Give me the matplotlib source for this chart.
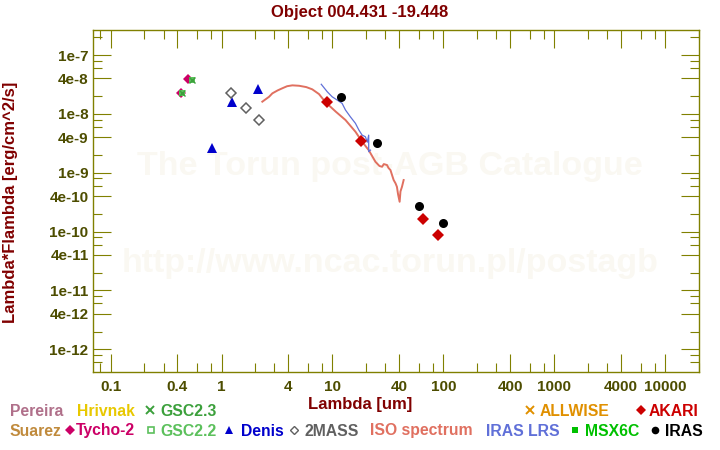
import math

import matplotlib
matplotlib.use('Agg')
import matplotlib.pyplot as plt
from matplotlib.ticker import LogLocator, FuncFormatter

plt.rcParams['font.family'] = ['Liberation Sans', 'DejaVu Sans']
plt.rcParams['font.weight'] = 'bold'

# photometry, wavelength [um] and lambda*F_lambda [erg/cm^2/s]
tycho_wl = [0.43, 0.50]
tycho_fl = [2.25e-8, 3.95e-8]
gsc22_wl = [0.44, 0.545]
gsc22_fl = [2.3e-8, 3.8e-8]
gsc23_wl = [0.44, 0.545]
gsc23_fl = [2.3e-8, 3.8e-8]
denis_wl = [0.82, 1.24, 2.14]
denis_fl = [2.65e-9, 1.61e-8, 2.67e-8]
mass_wl = [1.22, 1.67, 2.16]
mass_fl = [2.23e-8, 1.24e-8, 7.9e-9]
akari_wl = [9.0, 18.0, 65.0, 90.0]
akari_fl = [1.57e-8, 3.44e-9, 1.61e-10, 8.7e-11]
iras_wl = [12.0, 25.0, 60.0, 100.0]
iras_fl = [1.91e-8, 3.18e-9, 2.7e-10, 1.37e-10]

# ISO SWS spectrum
iso_wl = [2.33, 2.68, 2.87, 3.2, 3.53, 3.9, 4.35, 5.0, 5.8, 6.57, 7.55, 8.67, 10.7,
          13.1, 16.1, 18.5, 21.2, 24.4, 26.5, 28.0, 29.0, 31.0, 32.0, 33.3, 34.5,
          35.6, 37.0, 38.1, 39.0, 40.3, 41.0, 42.3, 43.8]
iso_fl = [1.61e-8, 1.95e-8, 2.23e-8, 2.5e-8, 2.72e-8, 2.95e-8, 3.05e-8, 3.0e-8, 2.85e-8,
          2.61e-8, 2.17e-8, 1.57e-8, 1.09e-8, 7.85e-9, 4.97e-9, 3.36e-9, 2.42e-9,
          1.53e-9, 1.30e-9, 1.26e-9, 1.40e-9, 1.35e-9, 1.20e-9, 1.11e-9, 9.0e-10,
          7.5e-10, 6.6e-10, 5.75e-10, 4.3e-10, 3.2e-10, 4.8e-10, 5.75e-10, 7.5e-10]

# IRAS LRS spectrum
lrs_wl = [7.92, 8.96, 9.93, 11.0, 12.2, 13.1, 14.5, 16.1, 17.3, 18.5, 19.8, 20.6,
          21.2, 21.2, 22.0]
lrs_fl = [3.18e-8, 2.38e-8, 1.95e-8, 1.72e-8, 1.51e-8, 1.16e-8, 8.9e-9, 6.9e-9,
          5.3e-9, 4.35e-9, 4.08e-9, 3.3e-9, 4.35e-9, 2.27e-9, 2.42e-9]

olive = '#808000'
tick_text = '#4d4d00'
maroon = '#800000'

fig = plt.figure(figsize=(7.2, 4.5), dpi=100)
ax = fig.add_axes([92.7 / 720, 1 - 372 / 450, (699.3 - 92.7) / 720, (372 - 30) / 450])

ax.set_xscale('log')
ax.set_yscale('log')
ax.set_xlim(0.0689, 20270)
ax.set_ylim(4.1e-13, 2.66e-7)

# watermark
ax.text(0.5417, 1 - 175 / 450, 'The Torun post-AGB Catalogue', transform=fig.transFigure,
        ha='center', va='baseline', fontsize=24.5, fontweight='bold', color='#faf8f2', zorder=0)
ax.text(0.5417, 1 - 272.3 / 450, 'http://www.ncac.torun.pl/postagb', transform=fig.transFigure,
        ha='center', va='baseline', fontsize=24.5, fontweight='bold', color='#faf8f2', zorder=0)

ax.plot(iso_wl, iso_fl, color='#e07060', lw=1.4, zorder=2)
ax.plot(lrs_wl, lrs_fl, color='#6070d8', lw=0.9, zorder=3)

ax.plot(tycho_wl, tycho_fl, 'D', color='#cc0066', ms=5.5, mew=0, zorder=4)
ax.plot(gsc22_wl, gsc22_fl, 's', color='#5cc05c', ms=5, mew=0, zorder=5)
ax.plot(gsc23_wl, gsc23_fl, 'x', color='#3ca03c', ms=4, mew=1, zorder=6)
ax.plot(denis_wl, denis_fl, '^', color='#0000cc', ms=6.5, mew=0, zorder=5)
ax.plot(mass_wl, mass_fl, 'D', mfc='none', mec='#606060', ms=5.5, mew=1.1, zorder=5)
ax.plot(akari_wl, akari_fl, 'D', color='#cc0000', ms=6.5, mew=0, zorder=6)
ax.plot(iras_wl, iras_fl, 'o', color='black', ms=6.5, mew=0, zorder=6)


def xfmt(v, pos):
    return '%g' % v


def yfmt(v, pos):
    e = int(math.floor(math.log10(v) + 1e-9))
    m = int(round(v / 10 ** e))
    return '%de%d' % (m, e)


ax.xaxis.set_major_locator(LogLocator(base=10, subs=(1.0, 4.0), numticks=30))
ax.xaxis.set_minor_locator(LogLocator(base=10, subs=(2.0, 3.0, 6.0, 8.0), numticks=30))
ax.yaxis.set_major_locator(LogLocator(base=10, subs=(1.0, 4.0), numticks=30))
ax.yaxis.set_minor_locator(LogLocator(base=10, subs=(2.0, 6.0, 8.0), numticks=30))
ax.xaxis.set_major_formatter(FuncFormatter(xfmt))
ax.yaxis.set_major_formatter(FuncFormatter(yfmt))
ax.xaxis.set_minor_formatter(FuncFormatter(lambda v, p: ''))
ax.yaxis.set_minor_formatter(FuncFormatter(lambda v, p: ''))

ax.tick_params(which='both', direction='in', top=True, right=True, color=olive,
               width=0.8, labelcolor=tick_text, labelsize=11)
ax.tick_params(which='major', length=13)
ax.tick_params(which='minor', length=6.5)
ax.tick_params(axis='x', pad=6)
ax.tick_params(axis='y', pad=3)
for lab in ax.get_xticklabels() + ax.get_yticklabels():
    lab.set_fontweight('bold')
for sp in ax.spines.values():
    sp.set_color(olive)
    sp.set_linewidth(1.0)

fig.text(0.5, 1 - 12 / 450, 'Object 004.431 -19.448', ha='center', va='center',
         fontsize=12, fontweight='bold', color=maroon)
fig.text(0.5, 1 - 405 / 450, 'Lambda [um]', ha='center', va='center',
         fontsize=12, fontweight='bold', color=maroon)
fig.text(10.5 / 720, 1 - 202 / 450, 'Lambda*Flambda [erg/cm^2/s]', ha='center', va='center',
         rotation=90, fontsize=12, fontweight='bold', color=maroon)

# legend along the bottom, drawn in pixel coordinates
lax = fig.add_axes([0, 0, 1, 1], zorder=-1)
lax.set_xlim(0, 720)
lax.set_ylim(450, 0)
lax.axis('off')

legend_items = [
    # marker x, text x, row, label, colour, marker
    (None, 10, 0, 'Pereira', '#b0708a', None),
    (None, 77.5, 0, 'Hrivnak', '#e8c800', None),
    (150, 160.5, 0, 'GSC2.3', '#3ca03c', 'x'),
    (530, 540, 0, 'ALLWISE', '#e09000', 'x'),
    (640.5, 649, 0, 'AKARI', '#cc0000', 'D'),
    (None, 10, 1, 'Suarez', '#c08a3c', None),
    (69.5, 75.5, 1, 'Tycho-2', '#cc0066', 'D'),
    (151, 160.5, 1, 'GSC2.2', '#5cc05c', 's'),
    (229, 240.5, 1, 'Denis', '#0000cc', '^'),
    (294, 304.5, 1, '2MASS', '#606060', 'Dopen'),
    (None, 370.5, 1, 'ISO spectrum', '#e07060', None),
    (None, 486, 1, 'IRAS LRS', '#6070d8', None),
    (575, 585, 1, 'MSX6C', '#00c000', 's'),
    (655, 665.5, 1, 'IRAS', 'black', 'o'),
]
row_base = [415.5, 435.5]
row_mid = [410, 430]
for mx, tx, row, label, col, mk in legend_items:
    lax.text(tx, row_base[row], label, ha='left', va='baseline', fontsize=11.3,
             fontweight='bold', color=col)
    if mk is None:
        continue
    if mk == 'Dopen':
        lax.plot([mx], [row_mid[row]], 'D', mfc='none', mec=col, ms=4.5, mew=1)
    elif mk == 'x':
        lax.plot([mx], [row_mid[row]], 'x', color=col, ms=5.5, mew=1.4)
    elif mk == 's':
        if label == 'GSC2.2':
            lax.plot([mx], [row_mid[row]], 's', mfc='none', mec=col, ms=4.5, mew=1.2)
        else:
            lax.plot([mx], [row_mid[row]], 's', color=col, ms=5, mew=0)
    else:
        lax.plot([mx], [row_mid[row]], mk, color=col, ms=5.5, mew=0)

fig.savefig('out.png', dpi=100)
